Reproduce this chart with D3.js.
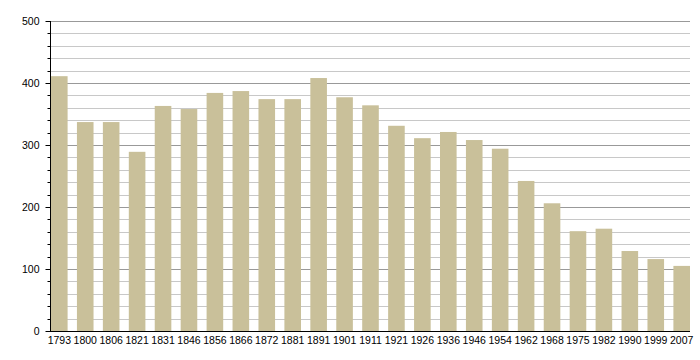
<!DOCTYPE html>
<html><head><meta charset="utf-8">
<script src="https://cdn.jsdelivr.net/npm/d3@7"></script>
<style>body{margin:0;background:#fff}svg{display:block}text{font-family:"Liberation Sans",Arial,sans-serif;font-size:11px;fill:#000}</style>
</head><body><svg id="c" width="700" height="360"></svg>
<script>
const years = ["1793","1800","1806","1821","1831","1846","1856","1866","1872","1881","1891","1901","1911","1921","1926","1936","1946","1954","1962","1968","1975","1982","1990","1999","2007"];
const population = [411,337,337,289,363,358,384,387,374,374,408,377,364,331,311,321,308,294,242,206,161,165,129,116,105];
const yTicks = [0,100,200,300,400,500];

(function(){
const svg = d3.select("#c");
const mL = 50.5, mR = 690, mT = 21, mB = 331;
const x = d3.scaleBand().domain(years).range([51, 690]).paddingInner(0.36).paddingOuter(0).align(0);
const y = d3.scaleLinear().domain([0,500]).range([mB, mT]);

const minor = d3.range(0, 501, 20);
svg.append("g").selectAll("line").data(minor).join("line")
  .attr("x1", mL).attr("x2", mR)
  .attr("y1", d => Math.round(y(d)) + 0.5).attr("y2", d => Math.round(y(d)) + 0.5)
  .attr("stroke", d => d % 100 === 0 ? "#999" : "#c8c8c8").attr("stroke-width", 1);

svg.append("g").selectAll("rect").data(population).join("rect")
  .attr("x", (d,i) => x(years[i])).attr("width", x.bandwidth())
  .attr("y", d => y(d)).attr("height", d => mB - y(d))
  .attr("fill", "#c9c09a");

svg.append("g").selectAll("line").data(minor.filter(d => d % 100 !== 0)).join("line")
  .attr("x1", mL - 3).attr("x2", mL)
  .attr("y1", d => Math.round(y(d)) + 0.5).attr("y2", d => Math.round(y(d)) + 0.5)
  .attr("stroke", "#000");

const ya = d3.axisLeft(y).tickValues(yTicks).tickSize(5).tickPadding(6).tickFormat(d3.format("d"));
const gy = svg.append("g").attr("transform", `translate(${mL},0)`).call(ya);
gy.select(".domain").attr("d", `M0,${mT}V${mB}`);
gy.selectAll("text").style("font-size","10.5px");

const xa = d3.axisBottom(x).tickSize(0).tickPadding(5);
const gx = svg.append("g").attr("transform", `translate(0,${mB + 0.5})`).call(xa);
gx.select(".domain").attr("d", `M${mL - 0.5},0H${mR}`);
gx.selectAll("text").style("font-size","10.5px");
})();
</script></body></html>
